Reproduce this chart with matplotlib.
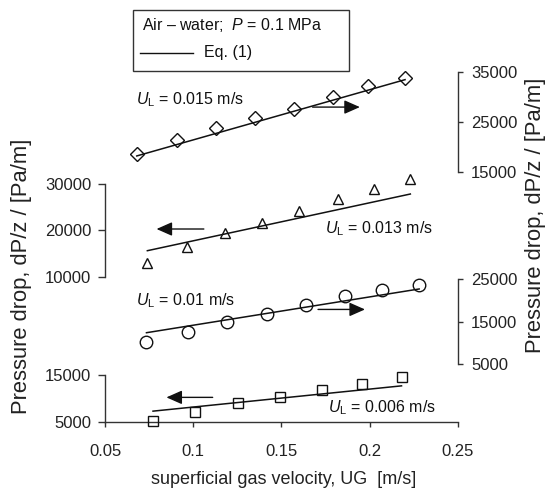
import matplotlib
matplotlib.use("Agg")
import matplotlib.pyplot as plt
from matplotlib.lines import Line2D
from matplotlib.patches import Rectangle

plt.rcParams['font.family'] = ['Liberation Sans', 'DejaVu Sans']
plt.rcParams['mathtext.fontset'] = 'custom'
plt.rcParams['mathtext.rm'] = 'Liberation Sans'
plt.rcParams['mathtext.it'] = 'Liberation Sans:italic'

# ---------------- data ----------------
ug_015 = [0.068, 0.091, 0.113, 0.135, 0.157, 0.179, 0.199, 0.220]
dp_015 = [18500, 21400, 23750, 25840, 27660, 30020, 32310, 33790]
fit_ug_015 = [0.068, 0.220]
fit_dp_015 = [18170, 33520]

ug_013 = [0.074, 0.0965, 0.118, 0.139, 0.160, 0.182, 0.2025, 0.223]
dp_013 = [13020, 16330, 19350, 21650, 24240, 26760, 28850, 31010]
fit_ug_013 = [0.074, 0.223]
fit_dp_013 = [15610, 27840]

ug_010 = [0.0735, 0.097, 0.119, 0.142, 0.164, 0.186, 0.207, 0.228]
dp_010 = [10140, 12480, 14950, 16750, 18860, 20890, 22290, 23600]
fit_ug_010 = [0.0735, 0.228]
fit_dp_010 = [12380, 22600]

ug_006 = [0.0772, 0.101, 0.1255, 0.149, 0.173, 0.1954, 0.218]
dp_006 = [5210, 7100, 9060, 10310, 11780, 13180, 14510]
fit_ug_006 = [0.0772, 0.218]
fit_dp_006 = [7310, 12690]

x_ticks = [0.05, 0.1, 0.15, 0.2, 0.25]
x_ticklabels = ['0.05', '0.1', '0.15', '0.2', '0.25']
series_labels = [r'$U_\mathrm{L}$ = 0.015 m/s', r'$U_\mathrm{L}$ = 0.013 m/s',
                 r'$U_\mathrm{L}$ = 0.01 m/s', r'$U_\mathrm{L}$ = 0.006 m/s']
legend_title = 'Air \u2013 water;  $P$ = 0.1 MPa'
legend_line = 'Eq. (1)'
xlabel = 'superficial gas velocity, UG  [m/s]'
ylabel = 'Pressure drop, dP/z / [Pa/m]'

# ---------------- layout ----------------
W, H = 548, 488
fig = plt.figure(figsize=(W / 100, H / 100), dpi=100)
X0, X1 = 105, 458
SC = '#333333'

def rect(top, bottom):
    return [X0 / W, 1 - bottom / H, (X1 - X0) / W, (bottom - top) / H]

panels = [
    dict(ug=ug_015, dp=dp_015, fu=fit_ug_015, fd=fit_dp_015, marker='D', ms=6.7,
         side='right', ylim=(15000, 35000), ticks=[15000, 25000, 35000], top=72.3, bottom=171.7,
         label=series_labels[0], lab_xy=(0.0673, 29480), lab_ha='left',
         arr=((0.1676, 28000), (0.1944, 28000))),
    dict(ug=ug_013, dp=dp_013, fu=fit_ug_013, fd=fit_dp_013, marker='^', ms=7.5,
         side='left', ylim=(10000, 30000), ticks=[10000, 20000, 30000], top=184, bottom=276.7,
         label=series_labels[1], lab_xy=(0.1745, 20430), lab_ha='left',
         arr=((0.106, 20290), (0.0792, 20290))),
    dict(ug=ug_010, dp=dp_010, fu=fit_ug_010, fd=fit_dp_010, marker='o', ms=9,
         side='right', ylim=(5000, 25000), ticks=[5000, 15000, 25000], top=278.7, bottom=364.3,
         label=series_labels[2], lab_xy=(0.0673, 19900), lab_ha='left',
         arr=((0.1707, 17820), (0.1973, 17820))),
    dict(ug=ug_006, dp=dp_006, fu=fit_ug_006, fd=fit_dp_006, marker='s', ms=7,
         side='left', ylim=(5000, 15000), ticks=[5000, 15000], top=375, bottom=422,
         label=series_labels[3], lab_xy=(0.1765, 8150), lab_ha='left',
         arr=((0.111, 10240), (0.0848, 10240))),
]

for i, p in enumerate(panels):
    ax = fig.add_axes(rect(p['top'], p['bottom']))
    ax.patch.set_visible(False)
    ax.set_xlim(0.05, 0.25)
    ax.set_ylim(*p['ylim'])
    for s in ['top', 'bottom', 'left', 'right']:
        ax.spines[s].set_visible(False)
    ax.spines[p['side']].set_visible(True)
    ax.spines[p['side']].set_color(SC)
    ax.spines[p['side']].set_linewidth(1.0)
    ax.yaxis.set_ticks_position(p['side'])
    ax.set_yticks(p['ticks'])
    ax.set_yticklabels([str(t) for t in p['ticks']])
    ax.tick_params(axis='y', labelsize=12, color=SC, width=1.0,
                   length=5 if p['side'] == 'left' else 3.5, pad=5 if p['side'] == 'left' else 6,
                   labelcolor='#222222')
    if i == len(panels) - 1:
        ax.spines['bottom'].set_visible(True)
        ax.spines['bottom'].set_color(SC)
        ax.spines['bottom'].set_linewidth(1.0)
        ax.set_xticks(x_ticks)
        ax.set_xticklabels(x_ticklabels)
        ax.tick_params(axis='x', labelsize=12, color=SC, width=1.0, length=3.5, pad=12,
                       labelcolor='#222222')
    else:
        ax.set_xticks([])

    ax.plot(p['fu'], p['fd'], color='#111111', lw=1.1, clip_on=False, zorder=2)
    ax.plot(p['ug'], p['dp'], linestyle='none', marker=p['marker'], ms=p['ms'],
            mfc='none', mec='#111111', mew=1.0, clip_on=False, zorder=3)
    ax.text(p['lab_xy'][0], p['lab_xy'][1], p['label'], fontsize=11.5, ha=p['lab_ha'],
            va='center', color='#111111', clip_on=False)
    (tx, ty), (hx, hy) = p['arr']
    ax.annotate('', xy=(hx, hy), xytext=(tx, ty), annotation_clip=False,
                arrowprops=dict(arrowstyle='-|>,head_length=0.95,head_width=0.42',
                                mutation_scale=10, lw=1.0, color='#111111',
                                shrinkA=0, shrinkB=0))

# legend box
fig.add_artist(Rectangle((132.6 / W, 1 - 70.7 / H), (349 - 132.6) / W, (70.7 - 10) / H,
                         transform=fig.transFigure, fill=False, lw=1.0, ec=SC))
fig.text(142 / W, 1 - 25 / H, legend_title, fontsize=11.5, va='center', ha='left', color='#111111')
fig.add_artist(Line2D([140 / W, 193 / W], [1 - 53 / H, 1 - 53 / H], transform=fig.transFigure,
                      color='#111111', lw=1.0))
fig.text(204.5 / W, 1 - 53 / H, legend_line, fontsize=11.5, va='center', ha='left', color='#111111')

# axis titles
fig.text(283.5 / W, 1 - 480 / H, xlabel, fontsize=13, ha='center', va='center', color='#222222')
fig.text(22 / W, 1 - 276 / H, ylabel, fontsize=15.8, rotation=90, ha='center', va='center', color='#222222')
fig.text(536 / W, 1 - 215 / H, ylabel, fontsize=15.8, rotation=90, ha='center', va='center', color='#222222')

fig.savefig('out.png', dpi=100)
